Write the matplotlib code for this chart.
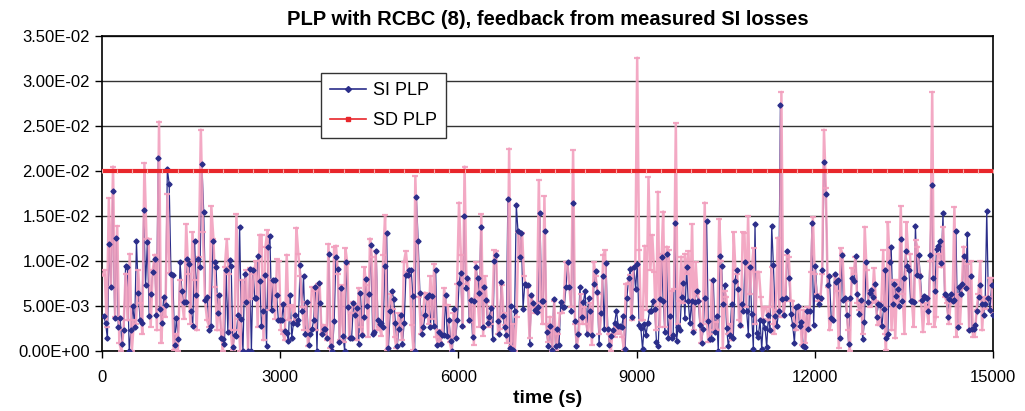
import numpy as np
import matplotlib
matplotlib.use("Agg")
import matplotlib.pyplot as plt
from matplotlib.lines import Line2D

plt.rcParams["font.family"] = ["Liberation Sans", "DejaVu Sans"]

# time windows (s) the readings were taken in, left to right
win_start = [30, 1920, 3790, 5670, 7575, 9445, 11330, 13200]
win_end = [1895, 3760, 5645, 7540, 9420, 11300, 13185, 15000]
pink_start = [10, 1905, 3780, 5665, 7580, 9445, 11310, 13195]
pink_end = [1875, 3760, 5655, 7540, 9420, 11300, 13180, 15000]

# SI PLP (blue), units of 1E-03, one list per window
si_plp = [
    [3.9, 3.1, 1.4, 11.9, 7.1, 17.8, 3.7, 12.6, 2.7, 3.7, 0.8, 2.3, 9.4, 9.3, 0.0, 2.3, 5.0, 2.7, 12.2, 6.5,
     3.5, 3.1, 15.7, 7.3, 12.1, 3.9, 6.3, 8.8, 10.2, 4.0, 21.5, 4.7, 3.1, 6.0, 5.1, 20.2, 18.6, 8.6, 8.4, 0.7,
     3.7, 1.3, 9.9, 6.7, 5.4, 5.4, 10.2, 9.7, 4.4, 2.8, 12.2, 6.2, 10.2, 9.3, 20.8, 15.5, 5.7, 6.0, 2.3, 2.8,
     12.2, 9.9],
    [9.3, 4.2, 6.2, 1.5, 1.3, 0.8, 9.0, 2.1, 10.1, 9.4, 0.4, 1.8, 1.7, 4.0, 13.8, 3.6, 0.0, 8.6, 5.4, 0.0,
     9.1, 0.0, 9.0, 5.9, 5.9, 10.6, 7.8, 2.8, 4.4, 8.5, 0.5, 11.6, 12.8, 4.6, 7.9, 7.9, 6.2, 3.5, 3.5, 3.5,
     5.2, 2.2, 2.0, 1.1, 6.2, 1.5, 3.1, 4.0, 3.0, 3.5, 9.6, 4.4, 8.3, 1.9, 5.4, 0.7, 1.9, 2.4, 3.4, 7.1,
     0.0, 7.6, 5.3, 1.9, 2.4, 2.5],
    [1.4, 10.8, 0.6, 0.0, 3.3, 10.4, 9.1, 1.0, 7.0, 1.7, 0.0, 9.9, 4.9, 1.4, 1.5, 5.3, 4.0, 4.8, 0.8, 6.5,
     1.8, 3.8, 8.0, 5.0, 6.3, 11.8, 1.9, 2.1, 11.1, 3.4, 3.0, 3.1, 2.7, 9.5, 13.1, 0.3, 4.4, 6.7, 5.8, 3.1,
     0.5, 2.5, 4.0, 0.8, 3.1, 8.5, 8.5, 9.0, 9.0, 6.1, 0.0, 17.1, 12.2, 6.5, 1.9, 2.7, 4.0, 6.0, 6.2, 2.7,
     6.1, 2.8, 9.0, 0.7],
    [2.1, 0.8, 1.8, 1.8, 6.2, 1.7, 3.5, 1.1, 0.0, 4.7, 1.4, 3.5, 7.6, 8.7, 2.8, 15.0, 7.0, 8.1, 3.4, 5.7,
     1.6, 5.6, 9.3, 8.1, 6.5, 13.8, 2.7, 7.1, 5.7, 3.1, 3.8, 4.8, 1.3, 10.0, 10.7, 3.3, 1.9, 7.7, 3.9, 2.7,
     1.8, 16.9, 0.3, 5.0, 0.1, 4.4, 16.2, 13.3, 10.4, 13.1, 4.7, 7.4, 7.3, 7.3, 0.8, 6.2, 5.3, 4.6, 4.3, 4.9,
     15.3, 5.6, 5.6, 13.3, 2.1, 0.5, 2.8],
    [0.1, 5.8, 0.5, 2.4, 0.7, 5.4, 4.9, 4.9, 7.1, 9.9, 7.1, 4.5, 16.4, 3.3, 0.6, 1.9, 7.1, 3.8, 5.4, 6.7,
     1.9, 5.9, 4.5, 1.8, 7.4, 8.9, 6.6, 0.8, 4.2, 8.3, 2.4, 9.8, 2.5, 0.7, 1.7, 2.3, 3.1, 4.5, 2.8, 2.8,
     2.7, 3.9, 0.2, 5.9, 8.1, 9.1, 3.8, 9.3, 6.9, 9.7, 2.9, 2.6, 0.2, 3.0, 1.8, 3.1, 4.4, 4.5, 5.6, 4.7,
     1.0, 0.5, 5.8, 10.4],
    [5.6, 2.1, 10.8, 1.5, 3.9, 1.5, 1.8, 14.2, 1.1, 2.7, 2.3, 6.0, 7.6, 3.7, 9.3, 5.6, 3.1, 5.6, 2.1, 5.4,
     6.7, 5.6, 2.9, 0.9, 2.5, 5.9, 14.4, 3.3, 1.3, 1.3, 7.9, 2.1, 3.9, 0.0, 10.6, 9.4, 5.2, 7.3, 2.6, 0.5,
     1.8, 5.2, 1.5, 7.8, 9.0, 6.9, 2.9, 5.2, 4.4, 9.9, 4.4, 1.8, 9.3, 4.1, 0.2, 14.1, 2.0, 1.6, 3.5, 0.2,
     3.3, 2.6, 0.4, 4.0, 2.3, 13.9, 9.6],
    [3.9, 2.8, 4.4, 27.4, 5.8, 4.0, 5.9, 11.1, 8.1, 4.1, 2.9, 0.9, 4.9, 5.0, 2.8, 3.2, 0.6, 0.4, 4.4, 2.5,
     4.4, 14.2, 2.9, 9.4, 6.1, 5.2, 5.9, 9.0, 21.0, 17.4, 7.3, 8.3, 3.7, 3.4, 8.6, 7.7, 7.9, 1.5, 10.7, 5.7,
     5.9, 4.0, 0.8, 5.9, 8.1, 7.8, 10.6, 6.3, 4.1, 5.7, 1.3, 3.2, 9.9, 5.4, 6.5, 6.8, 6.0, 7.4, 3.8, 5.2,
     5.1, 2.8, 4.7, 9.0],
    [1.4, 1.9, 9.9, 11.6, 5.2, 7.4, 6.1, 6.9, 5.0, 12.4, 5.6, 8.1, 11.1, 9.4, 9.0, 5.6, 5.6, 5.4, 13.9, 8.5,
     10.7, 8.3, 5.7, 6.1, 6.0, 5.9, 4.4, 10.7, 18.4, 8.1, 6.7, 11.3, 11.7, 12.2, 9.8, 15.3, 6.3, 6.2, 3.8, 5.8,
     6.3, 5.6, 5.7, 13.3, 2.7, 7.1, 6.3, 7.4, 10.6, 7.0, 13.0, 2.3, 8.3, 2.4, 2.4, 2.9, 4.5, 6.0, 7.3, 5.2,
     4.0, 5.2, 15.6, 5.9, 4.6, 7.3, 4.0],
]

# pink trace (measured SI losses, not in legend), units of 1E-03
si_measured = [
    [8.4, 9.0, 2.7, 17.0, 7.1, 20.5, 3.8, 13.9, 0.9, 0.0, 2.3, 8.6, 3.4, 10.8, 0.0, 3.4, 3.0, 9.0, 5.3, 1.9,
     20.9, 12.5, 12.5, 2.7, 9.0, 10.7, 2.3, 25.5, 0.9, 4.9, 3.8, 17.4, 8.7, 8.4, 0.1, 1.9, 0.0, 7.9, 5.4, 3.6,
     14.1, 8.6, 3.0, 13.2, 7.9, 2.3, 10.5, 24.6, 13.2, 5.6, 3.4, 2.7, 16.1, 12.5],
    [7.1, 2.3, 6.3, 2.3, 0.0, 9.3, 12.4, 8.6, 2.3, 0.1, 2.3, 15.2, 3.6, 0.0, 7.9, 5.3, 9.0, 0.0, 9.2, 5.8,
     8.6, 10.0, 2.7, 12.9, 12.9, 1.2, 11.6, 13.4, 4.6, 7.9, 7.9, 3.6, 10.2, 10.0, 2.3, 1.9, 1.2, 10.7, 3.4, 5.1,
     4.9, 3.2, 13.7, 10.8, 8.3, 4.9, 2.3, 5.4, 0.5, 2.3, 7.1, 6.7, 2.3, 7.5, 7.6, 1.9, 2.9, 2.7],
    [1.2, 11.9, 0.3, 0.0, 11.6, 11.7, 8.6, 1.2, 7.3, 1.0, 11.4, 9.7, 1.4, 4.2, 5.4, 5.1, 1.2, 7.0, 2.7, 1.9,
     9.3, 7.3, 1.6, 12.5, 10.5, 1.9, 11.1, 2.3, 2.7, 1.7, 10.7, 15.1, 0.1, 4.7, 6.3, 4.7, 1.6, 0.3, 4.2, 3.0,
     1.2, 9.9, 11.1, 8.8, 9.0, 2.9, 0.1, 19.4, 12.1, 6.0, 1.9, 3.8, 6.5, 6.0, 3.0, 8.3, 3.6, 9.7, 1.6, 0.7],
    [2.3, 1.0, 1.9, 7.0, 5.1, 5.1, 1.0, 0.0, 4.2, 1.6, 7.5, 16.5, 10.7, 2.7, 20.5, 7.5, 7.9, 3.2, 5.8, 0.7,
     9.9, 6.0, 2.7, 15.2, 1.7, 8.3, 5.4, 2.7, 3.0, 4.9, 11.2, 11.1, 1.9, 2.5, 7.3, 4.2, 2.9, 0.9, 22.5, 0.5,
     3.0, 0.0, 3.8, 13.2, 10.5, 13.1, 8.3, 7.3, 7.1, 1.4, 6.0, 4.9, 4.2, 4.6, 19.0, 5.3, 3.0, 17.2, 3.0, 1.0,
     3.8],
    [0.0, 5.6, 0.1, 1.9, 4.2, 4.2, 4.9, 9.9, 9.9, 7.1, 4.9, 22.3, 3.0, 0.5, 1.9, 6.3, 3.0, 4.9, 3.0, 1.9,
     5.3, 0.7, 9.9, 8.3, 6.3, 1.9, 4.2, 10.7, 11.2, 2.5, 1.9, 0.0, 2.3, 1.6, 2.7, 1.9, 2.5, 1.6, 0.1, 7.5,
     7.5, 8.4, 3.4, 9.3, 9.3, 32.6, 11.2, 3.4, 3.4, 11.7, 4.6, 19.3, 9.0, 12.9, 8.8, 2.3, 17.7, 2.7, 10.8],
    [15.5, 2.7, 11.6, 11.2, 1.4, 6.7, 6.9, 25.3, 3.0, 5.6, 10.5, 5.3, 10.8, 8.6, 11.1, 5.3, 14.1, 2.3, 9.9, 6.3,
     5.6, 0.9, 3.0, 16.5, 3.4, 1.0, 1.9, 7.9, 2.3, 3.2, 2.3, 14.7, 10.0, 0.3, 6.7, 6.0, 1.9, 3.0, 1.2, 13.2,
     9.0, 8.6, 3.4, 2.7, 13.2, 13.1, 4.9, 15.0, 6.3, 9.0, 11.4, 3.0, 8.8, 8.8, 6.0, 3.6, 4.9, 4.9, 3.4, 4.9,
     9.3, 3.0],
    [1.9, 4.6, 12.6, 3.8, 28.8, 3.8, 5.6, 10.7, 10.5, 5.6, 5.6, 3.0, 2.3, 4.9, 4.9, 0.7, 4.6, 0.9, 4.9, 2.3,
     8.8, 14.9, 8.6, 6.3, 5.6, 5.6, 8.6, 24.6, 18.1, 7.1, 2.3, 3.4, 3.4, 8.3, 6.7, 0.3, 11.4, 10.8, 5.6, 5.6,
     2.3, 0.0, 9.2, 8.6, 10.5, 5.3, 4.6, 5.3, 1.9, 13.8, 9.0, 5.3, 4.9, 5.3, 9.2, 5.6, 2.9, 2.9, 5.4, 11.2,
     1.9],
    [0.1, 14.3, 10.0, 2.3, 7.9, 1.4, 7.9, 4.9, 16.1, 6.3, 1.9, 14.3, 10.8, 10.8, 5.6, 2.7, 12.3, 11.6, 8.6, 5.6,
     2.1, 5.3, 4.9, 3.0, 10.0, 28.8, 2.7, 3.8, 10.8, 10.8, 9.3, 13.8, 6.0, 5.3, 3.0, 5.6, 5.3, 16.0, 1.6, 6.3,
     3.0, 7.1, 11.6, 7.0, 9.7, 2.3, 10.0, 1.6, 1.6, 4.6, 6.3, 10.0, 2.3, 6.0, 4.7, 6.0, 8.1, 8.1, 4.2],
]

sd_plp_level = 0.020


def stitch(parts, starts, ends):
    t = np.concatenate([np.linspace(a, b, len(p)) for p, a, b in zip(parts, starts, ends)])
    v = np.concatenate([np.array(p) for p in parts]) * 1e-3
    return t, v


t_si, si = stitch(si_plp, win_start, win_end)
t_meas, meas = stitch(si_measured, pink_start, pink_end)
t_sd = np.linspace(0, 15000, 60)
sd = np.full(len(t_sd), sd_plp_level)

navy = "#2b2e8a"
pink = "#f2a0be"
red = "#e8262b"

fig = plt.figure(figsize=(10.25, 4.11), dpi=100)
ax = fig.add_axes([0.0995, 0.146, 0.8695, 0.766])

ax.plot(t_si, si, color=navy, lw=0.9, zorder=3)
ax.plot(t_meas, meas, color=pink, lw=1.8, alpha=0.9, marker="_", ms=5, mew=1.6, zorder=4)
ax.plot(t_si, si, ls="none", marker="D", ms=2.6, color=navy, zorder=5)
ax.plot(t_sd, sd, color=red, lw=3, marker="|", ms=2.5, mew=0.8, mec="#f6b0b0", zorder=6)

ax.set_xlim(0, 15000)
ax.set_ylim(0, 0.035)
ax.set_xticks(np.arange(0, 15001, 3000))
ax.set_yticks(np.arange(0, 0.0351, 0.005))
ax.set_yticklabels([f"{v:.2E}" for v in np.arange(0, 0.0351, 0.005)])
ax.tick_params(labelsize=12, length=5, width=1, direction="out", color="black")
ax.tick_params(axis="x", pad=9)
ax.yaxis.grid(True, color="#333333", lw=1)
ax.set_axisbelow(True)
for s in ax.spines.values():
    s.set_linewidth(1.2)

ax.set_title("PLP with RCBC (8), feedback from measured SI losses",
             fontsize=14.5, fontweight="bold", pad=8)
ax.set_xlabel("time (s)", fontsize=14, fontweight="bold", labelpad=3)

handles = [
    Line2D([], [], color=navy, lw=1.2, marker="D", ms=3),
    Line2D([], [], color=red, lw=1.2, marker="s", ms=2.5),
]
leg = ax.legend(handles, ["SI PLP", "SD PLP"], loc="upper left",
                bbox_to_anchor=(0.2455, 0.8835), borderaxespad=0, fontsize=13,
                fancybox=False, framealpha=1, edgecolor="#333333",
                handlelength=2.0, handletextpad=0.4, borderpad=0.5,
                labelspacing=0.75)
leg.get_frame().set_linewidth(1)

fig.savefig("out.png", dpi=100)
